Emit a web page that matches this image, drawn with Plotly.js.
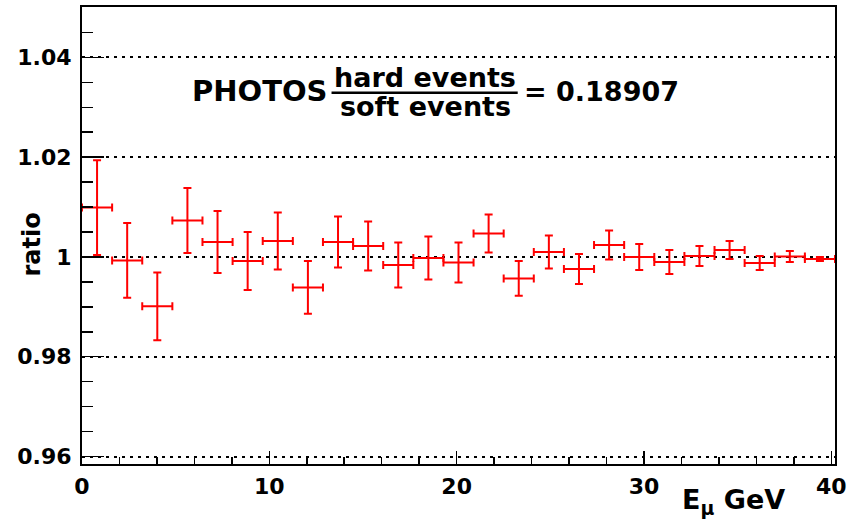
<!DOCTYPE html>
<html>
<head>
<meta charset="utf-8">
<script src="https://cdn.plot.ly/plotly-3.0.1.min.js"></script>
<style>html,body{margin:0;padding:0;background:#fff;}#chart{width:861px;height:522px;}</style>
</head>
<body>
<div id="chart"></div>
<script>
// Bin centres (E_mu, GeV), 25 bins over 0 - 40.2
var energyCenters = [0.804, 2.412, 4.020, 5.628, 7.236, 8.844, 10.452, 12.060, 13.668, 15.276,
  16.884, 18.492, 20.100, 21.708, 23.316, 24.924, 26.532, 28.140, 29.748, 31.356,
  32.964, 34.572, 36.180, 37.788, 39.396];
var binHalfWidths = [0.804, 0.804, 0.804, 0.804, 0.804, 0.804, 0.804, 0.804, 0.804, 0.804,
  0.804, 0.804, 0.804, 0.804, 0.804, 0.804, 0.804, 0.804, 0.804, 0.804,
  0.804, 0.804, 0.804, 0.804, 0.804];
var ratioValues = [1.0099, 0.9993, 0.9901, 1.0073, 1.0030, 0.9992, 1.0032, 0.9939, 1.0030, 1.0022,
  0.9984, 0.9998, 0.9989, 1.0047, 0.9957, 1.0010, 0.9976, 1.0024, 1.0000, 0.9990,
  1.0002, 1.0014, 0.9988, 1.0001, 0.9996];
var ratioErrors = [0.0095, 0.0075, 0.0068, 0.0065, 0.0062, 0.0058, 0.0057, 0.0053, 0.0051, 0.0049,
  0.0045, 0.0043, 0.0040, 0.0038, 0.0035, 0.0033, 0.0030, 0.0029, 0.0026, 0.0024,
  0.0020, 0.0018, 0.0014, 0.0011, 0.0004];
var yTickVals = [0.96, 0.98, 1.00, 1.02, 1.04];
var yTickText = ['0.96', '0.98', '1', '1.02', '1.04'];
var xTickVals = [0, 10, 20, 30, 40];
var xTickText = ['0', '10', '20', '30', '40'];

var FONT = 'DejaVu Sans, Liberation Sans, Arial, sans-serif';
var RED = '#ff0000';

var trace = {
  type: 'scatter',
  mode: 'markers',
  x: energyCenters,
  y: ratioValues,
  marker: {size: 1, color: RED},
  error_y: {type: 'data', array: ratioErrors, visible: true, color: RED, thickness: 2, width: 4},
  error_x: {type: 'data', array: binHalfWidths, visible: true, color: RED, thickness: 2, width: 4},
  hoverinfo: 'skip',
  showlegend: false
};

var L = 82, R = 835.5, T = 7, B = 464.3;
var W = R - L, H = B - T;
function px(x) { return (x - L) / W; }
function py(y) { return (B - y) / H; }

var layout = {
  width: 861, height: 522,
  margin: {l: L, r: 861 - R, t: T, b: 522 - B, pad: 0},
  paper_bgcolor: '#ffffff',
  plot_bgcolor: '#ffffff',
  showlegend: false,
  xaxis: {
    range: [0, 40.2],
    tickmode: 'array', tickvals: xTickVals, ticktext: xTickText,
    ticks: 'inside', ticklen: 13, tickwidth: 1.5, tickcolor: '#000',
    minor: {tickmode: 'linear', tick0: 0, dtick: 2, ticks: 'inside', ticklen: 7, tickwidth: 1.5, tickcolor: '#000', showgrid: false},
    showgrid: false, zeroline: false,
    showline: true, linecolor: '#000', linewidth: 2, mirror: true,
    tickfont: {family: FONT, size: 22, color: '#000', weight: 'bold'},
    ticklabelstandoff: 2
  },
  yaxis: {
    range: [0.9585, 1.0501],
    tickmode: 'array', tickvals: yTickVals, ticktext: yTickText,
    ticks: 'inside', ticklen: 22, tickwidth: 1.5, tickcolor: '#000',
    minor: {tickmode: 'linear', tick0: 0.96, dtick: 0.005, ticks: 'inside', ticklen: 11, tickwidth: 1.5, tickcolor: '#000', showgrid: false},
    showgrid: true, gridcolor: '#000', gridwidth: 2, griddash: '3px,5px',
    zeroline: false,
    showline: true, linecolor: '#000', linewidth: 2, mirror: true,
    tickfont: {family: FONT, size: 22, color: '#000', weight: 'bold'},
    ticklabelstandoff: 4
  },
  shapes: [
    {type: 'line', xref: 'paper', yref: 'paper', x0: px(331.7), x1: px(518), y0: py(92.7), y1: py(92.7),
     line: {color: '#000', width: 2.5}}
  ],
  annotations: [
    {text: 'PHOTOS', xref: 'paper', yref: 'paper', x: px(260.5), y: py(91), xanchor: 'center', yanchor: 'middle',
     showarrow: false, font: {family: FONT, size: 29, color: '#000', weight: 'bold'}},
    {text: 'hard events', xref: 'paper', yref: 'paper', x: px(425), y: py(78), xanchor: 'center', yanchor: 'middle',
     showarrow: false, font: {family: FONT, size: 27, color: '#000', weight: 'bold'}},
    {text: 'soft events', xref: 'paper', yref: 'paper', x: px(425.5), y: py(107), xanchor: 'center', yanchor: 'middle',
     showarrow: false, font: {family: FONT, size: 27, color: '#000', weight: 'bold'}},
    {text: '= 0.18907', xref: 'paper', yref: 'paper', x: px(601.5), y: py(92), xanchor: 'center', yanchor: 'middle',
     showarrow: false, font: {family: FONT, size: 27, color: '#000', weight: 'bold'}},
    {text: 'ratio', xref: 'paper', yref: 'paper', x: px(31.7), y: py(245), xanchor: 'center', yanchor: 'middle',
     textangle: -90, showarrow: false, font: {family: FONT, size: 24, color: '#000', weight: 'bold'}},
    {text: 'E<sub>μ</sub> GeV', xref: 'paper', yref: 'paper', x: px(734), y: py(502), xanchor: 'center', yanchor: 'middle',
     showarrow: false, font: {family: FONT, size: 27, color: '#000', weight: 'bold'}}
  ]
};

Plotly.newPlot('chart', [trace], layout, {staticPlot: true, displayModeBar: false});
</script>
</body>
</html>
